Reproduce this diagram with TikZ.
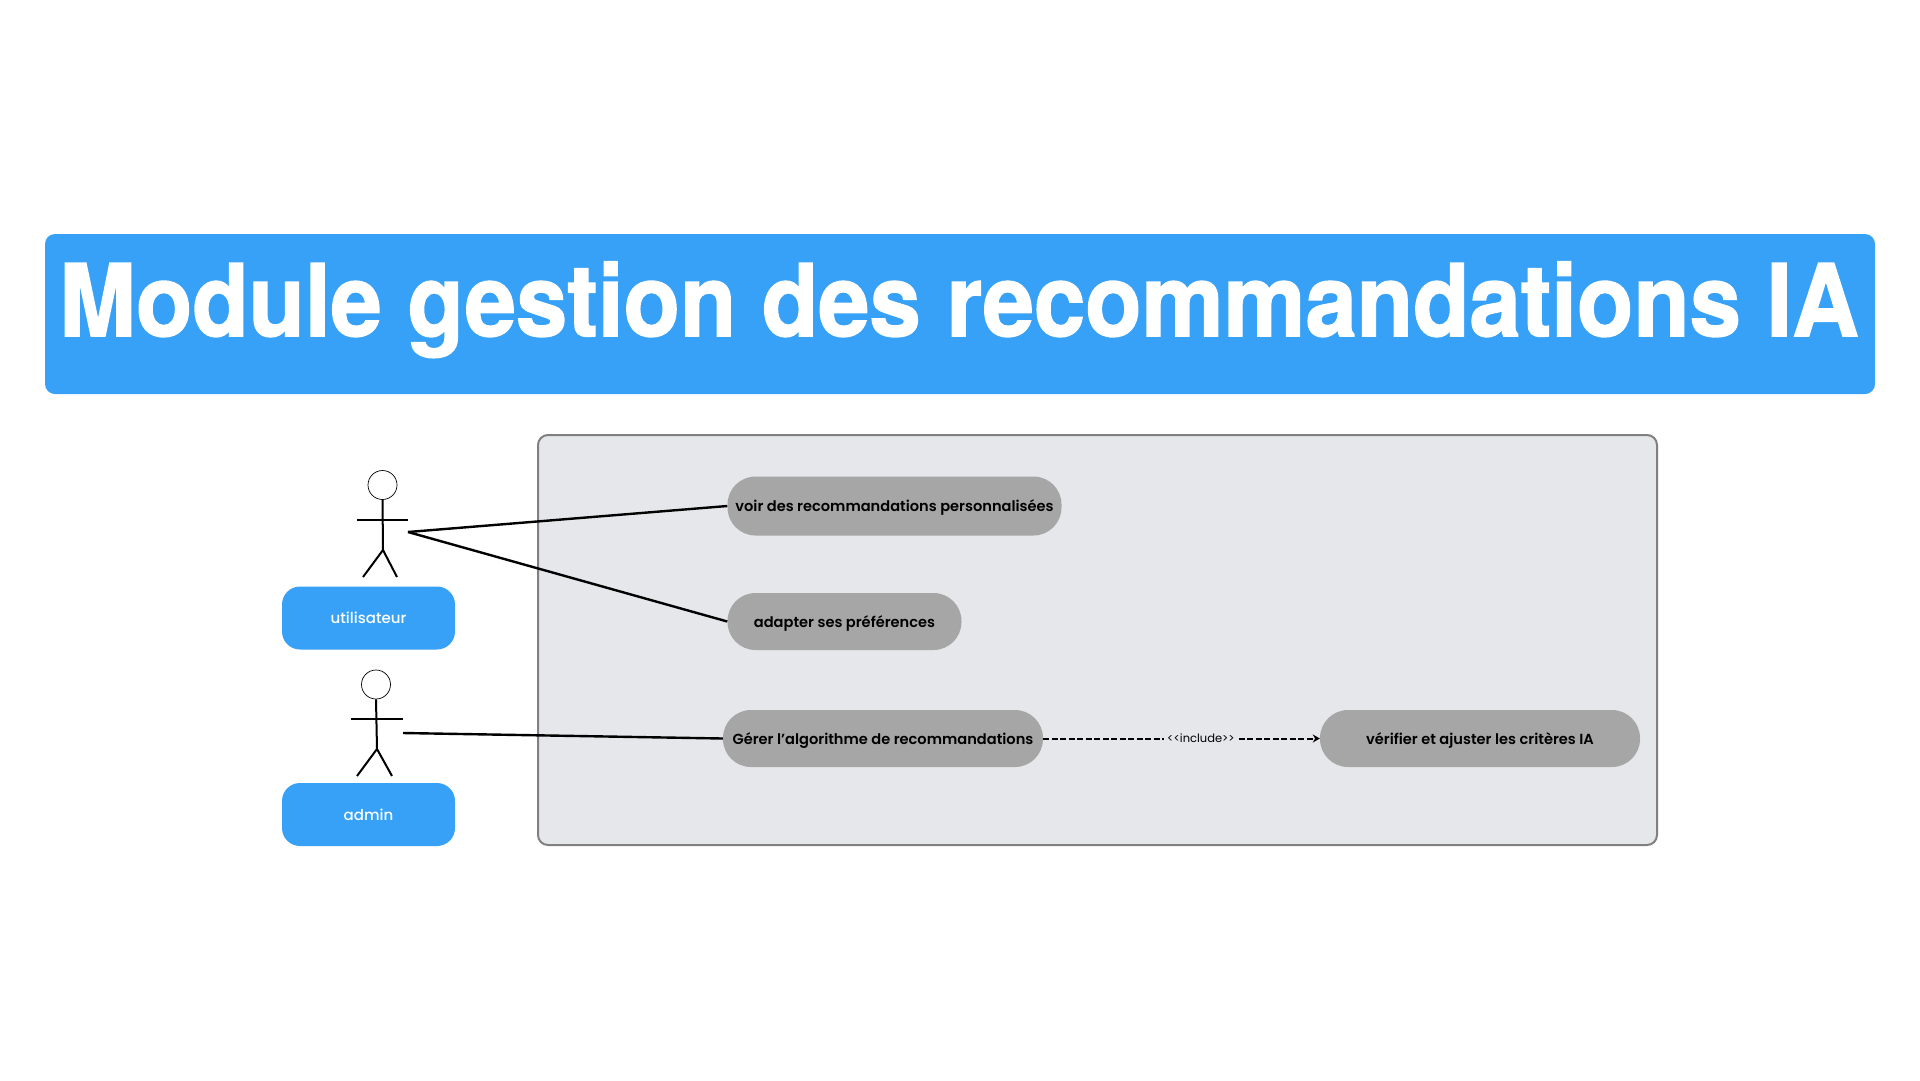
\documentclass[tikz,border=0pt]{standalone}
\usepackage{fontspec}
\setmainfont{Poppins}[BoldFont=Poppins SemiBold]
\newfontfamily\titlefont{TeX Gyre Heros}[BoldFeatures={FakeBold=1.5}]
\newfontfamily\boxfont{Poppins Medium}
\usetikzlibrary{positioning}
\usetikzlibrary{arrows.meta}
\definecolor{bannerblue}{HTML}{36A1F6}
\definecolor{panelgray}{HTML}{E6E7EB}
\definecolor{pillgray}{HTML}{A6A6A6}
\tikzset{
  pill/.style={rectangle,fill=pillgray,rounded corners=28pt,minimum height=57pt,inner sep=0pt,text=black,text height=11pt,text depth=0pt,font=\fontsize{14.6}{18}\selectfont\bfseries},
  actorbox/.style={rectangle,fill=bannerblue,rounded corners=18pt,minimum width=173pt,minimum height=63pt,inner sep=0pt,text=white,font=\boxfont\fontsize{15}{18}\selectfont},
  head/.style={circle,draw=black,line width=0.7pt,minimum size=29pt,inner sep=0pt},
  limb/.style={black,line width=2pt},
  assoc/.style={black,line width=2.4pt}
}
\begin{document}
\begin{tikzpicture}[x=1pt,y=-1pt]
\useasboundingbox (0,0) rectangle (1920,1080);

% title
\node[rectangle,fill=bannerblue,rounded corners=10pt,minimum width=1830pt,minimum height=160pt,inner sep=0pt] (banner) at (960,314) {};
\node[anchor=base,inner sep=0pt,text=white,font=\titlefont\fontsize{100}{110}\selectfont\bfseries] (title) at (959,336) {\scalebox{0.922}[1]{Module gestion des recommandations IA}};

\draw[draw=gray,fill=panelgray,line width=2pt,rounded corners=10pt] (538,435) rectangle (1657,845);

% actors
\node[head] (userhead) at (382.5,485) {};
\coordinate (userhip) at (383,550);
\coordinate (userhand) at (408,532);
\draw[limb] (userhead.south) -- (userhip);
\draw[limb] (357,519.5) -- (408,519.5);
\draw[limb] (363,577) -- (userhip) -- (397,577);
\node[actorbox] (user) at (368.5,618) {utilisateur};

\node[head] (adminhead) at (376,684.5) {};
\coordinate (adminhip) at (377,749);
\coordinate (adminhand) at (403,733);
\draw[limb] (adminhead.south) -- (adminhip);
\draw[limb] (351,718.7) -- (403,718.7);
\draw[limb] (357,776) -- (adminhip) -- (392,776);
\node[actorbox] (admin) at (368.5,814.5) {admin};

% use cases
\node[pill,minimum width=334pt,minimum height=59pt] (voir) at (894.5,506) {voir des recommandations personnalisées};
\node[pill,minimum width=234pt] (adapter) at (844.5,621.5) {adapter ses préférences};
\node[pill,minimum width=320pt] (gerer) at (883,738.5) {Gérer l’algorithme de recommandations};
\node[pill,minimum width=320pt] (verifier) at (1480,738.5) {vérifier et ajuster les critères IA};

\draw[assoc] (userhand) -- (voir.west);
\draw[assoc] (userhand) -- (adapter.west);
\draw[assoc] (adminhand) -- (gerer.west);
\draw[black,line width=2pt,dash pattern=on 6pt off 2.5pt,-{Stealth[length=7pt,width=8pt]}] (gerer) -- node[fill=panelgray,inner xsep=3pt,inner ysep=1pt,font=\fontsize{11.5}{14}\selectfont,text=black,pos=0.57] (incl) {{<}{<}include{>}{>}} (verifier);

\end{tikzpicture}
\end{document}
